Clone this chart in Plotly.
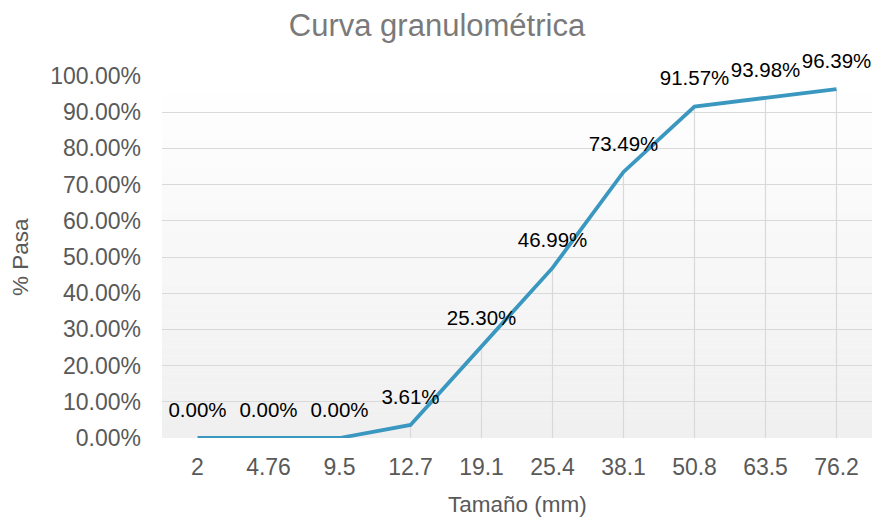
import plotly.graph_objects as go

sizes = ["2", "4.76", "9.5", "12.7", "19.1", "25.4", "38.1", "50.8", "63.5", "76.2"]
pasa = [0.0, 0.0, 0.0, 0.0361, 0.2530, 0.4699, 0.7349, 0.9157, 0.9398, 0.9639]
labels = ["0.00%", "0.00%", "0.00%", "3.61%", "25.30%", "46.99%", "73.49%", "91.57%", "93.98%", "96.39%"]
y_ticks = [i / 10 for i in range(11)]

FONT = "Liberation Sans, Arial, sans-serif"

fig = go.Figure()

# drop lines from each point to the axis
for s, v in zip(sizes, pasa):
    if v > 0:
        fig.add_trace(go.Scatter(x=[s, s], y=[0, v], mode="lines",
                                 line=dict(color="#d9d9d9", width=1.2),
                                 hoverinfo="skip", showlegend=False))

fig.add_trace(go.Scatter(
    x=sizes, y=pasa, mode="lines+markers+text",
    line=dict(color="#3a97c0", width=3.8),
    marker=dict(size=24, color="rgba(0,0,0,0)"),
    text=labels, textposition="top center",
    textfont=dict(family=FONT, size=20.5, color="#000000"),
    cliponaxis=False, showlegend=False))

# background vertical gradient (decoration)
shapes = []
n = 40
for i in range(n):
    t = i / (n - 1)
    g = int(round(255 - (255 - 240) * (1 - t)))
    shapes.append(dict(type="rect", xref="paper", yref="paper",
                       x0=0, x1=1, y0=i / n, y1=(i + 1) / n,
                       fillcolor=f"rgb({g},{g},{g})", line=dict(width=0),
                       layer="below"))

fig.update_layout(
    width=874, height=518,
    margin=dict(l=162, r=2, t=76, b=80, autoexpand=False),
    paper_bgcolor="white", plot_bgcolor="rgba(0,0,0,0)",
    shapes=shapes,
    title=dict(text="Curva granulométrica", x=0.5, xref="container", xanchor="center",
               y=0.952, yanchor="middle",
               font=dict(family=FONT, size=31, color="#7a7a7a")),
    xaxis=dict(type="category", categoryorder="array", categoryarray=sizes,
               showgrid=False, zeroline=False, showline=False, ticks="",
               automargin=False, ticklabelstandoff=13,
               tickfont=dict(family=FONT, size=23, color="#595959"),
               range=[-0.5, len(sizes) - 0.5]),
    yaxis=dict(range=[0, 1], tickvals=y_ticks, tickformat=".2%",
               showgrid=True, gridcolor="#d9d9d9", gridwidth=1.2,
               zeroline=False, showline=False, ticks="", ticklabelstandoff=20,
               automargin=False,
               tickfont=dict(family=FONT, size=23, color="#595959")),
)
# axis titles as annotations placed by pixel position converted to paper coords
plot_w, plot_h = 874 - 162 - 2, 518 - 76 - 80
fig.add_annotation(text="Tamaño (mm)", x=0.5, xref="paper",
                   y=(438 - 504) / plot_h, yref="paper", yanchor="middle",
                   showarrow=False, font=dict(family=FONT, size=22.5, color="#595959"))
fig.add_annotation(text="% Pasa", textangle=-90, xref="paper", yref="paper",
                   x=(20 - 162) / plot_w, y=(438 - 257) / plot_h,
                   xanchor="center", yanchor="middle", showarrow=False,
                   font=dict(family=FONT, size=22.5, color="#595959"))

fig.write_html("out.html", config={"displayModeBar": False},
               post_script="document.body.style.margin='0';")
